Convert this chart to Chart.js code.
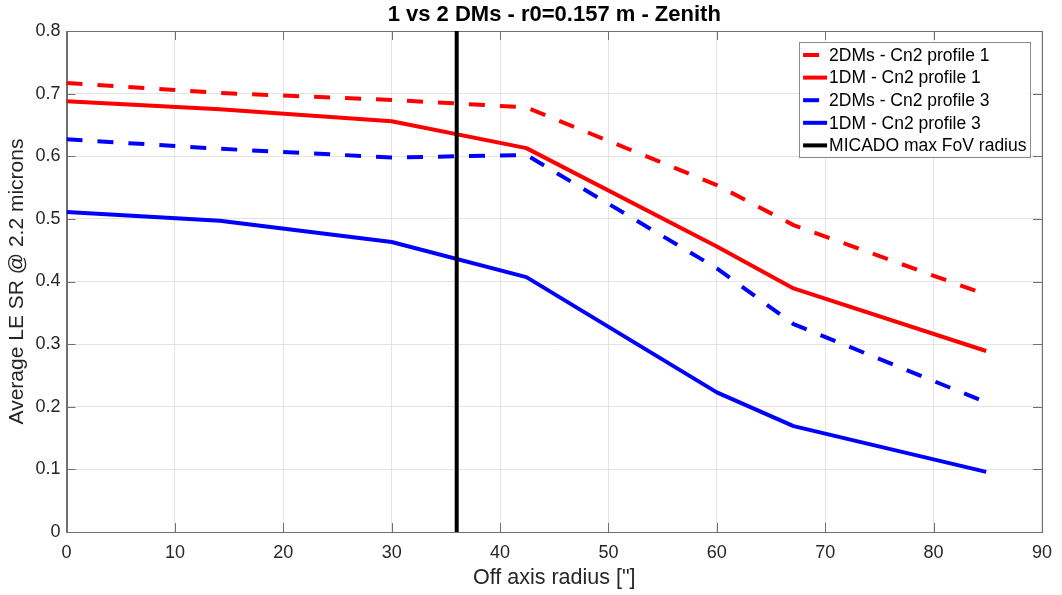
<!DOCTYPE html>
<html>
<head>
<meta charset="utf-8">
<title>1 vs 2 DMs - Zenith</title>
<script src="https://cdn.jsdelivr.net/npm/chart.js@4.4.1/dist/chart.umd.min.js"></script>
<style>
  html, body { margin: 0; padding: 0; background: #fff; }
  #wrap { width: 1062px; height: 595px; }
</style>
</head>
<body>
<div id="wrap"><canvas id="sr_chart" width="1062" height="595"></canvas></div>
<script>
// off axis radius of the sampled field points ["]
var radius = [0, 14.14, 30, 42.43, 60, 67.08, 84.85];

// average LE strehl @ 2.2 microns
var sr2dmProf1 = [0.717, 0.701, 0.690, 0.678, 0.554, 0.490, 0.379];
var sr1dmProf1 = [0.688, 0.675, 0.656, 0.613, 0.456, 0.389, 0.289];
var sr2dmProf3 = [0.627, 0.612, 0.598, 0.602, 0.421, 0.332, 0.207];
var sr1dmProf3 = [0.511, 0.497, 0.463, 0.407, 0.223, 0.169, 0.096];

// MICADO max FoV radius ["]
var fovRadius = 36;
var fovLimits = [0, 0.8];

var xTicks = [0, 10, 20, 30, 40, 50, 60, 70, 80, 90];
var yTicks = [0, 0.1, 0.2, 0.3, 0.4, 0.5, 0.6, 0.7, 0.8];

var FONT = "'Liberation Sans', Arial, Helvetica, sans-serif";
var TXT = '#262626';

function toPoints(xs, ys) {
  return xs.map(function (x, i) { return { x: x, y: ys[i] }; });
}

// matlab style box, inward ticks and title
var boxPlugin = {
  id: 'matlabBox',
  beforeDatasetsDraw: function (chart) {
    var ctx = chart.ctx, a = chart.chartArea;
    var xs = chart.scales.x, ys = chart.scales.y;
    ctx.save();
    ctx.strokeStyle = '#707070';
    ctx.lineWidth = 1;
    ctx.beginPath();
    xTicks.forEach(function (t) {
      var px = Math.round(xs.getPixelForValue(t)) + 0.5;
      ctx.moveTo(px, a.bottom); ctx.lineTo(px, a.bottom - 9);
      ctx.moveTo(px, a.top); ctx.lineTo(px, a.top + 9);
    });
    yTicks.forEach(function (t) {
      var py = Math.round(ys.getPixelForValue(t)) + 0.5;
      ctx.moveTo(a.left, py); ctx.lineTo(a.left + 9, py);
      ctx.moveTo(a.right, py); ctx.lineTo(a.right - 9, py);
    });
    ctx.stroke();
    ctx.strokeRect(Math.round(a.left) + 0.5, Math.round(a.top) + 0.5,
      Math.round(a.right - a.left), Math.round(a.bottom - a.top));
    ctx.restore();
  },
  afterDraw: function (chart) {
    var ctx = chart.ctx, a = chart.chartArea;
    ctx.save();
    ctx.fillStyle = '#000';
    ctx.font = 'bold 22px ' + FONT;
    ctx.textAlign = 'center';
    ctx.textBaseline = 'middle';
    ctx.fillText('1 vs 2 DMs - r0=0.157 m - Zenith', (a.left + a.right) / 2, 15);
    ctx.restore();
  }
};

// legend inside the axes, top right
var legendPlugin = {
  id: 'insideLegend',
  afterDatasetsDraw: function (chart) {
    var ctx = chart.ctx, a = chart.chartArea;
    var sets = chart.data.datasets;
    ctx.save();
    ctx.font = '17.5px ' + FONT;
    var tw = 0;
    sets.forEach(function (d) { tw = Math.max(tw, ctx.measureText(d.label).width); });
    var rowH = 22.6;
    var w = tw + 34, h = rowH * sets.length + 2;
    var right = a.right - 11.5, top = a.top + 10.5;
    var left = right - w;
    ctx.fillStyle = '#fff';
    ctx.fillRect(left, top, w, h);
    ctx.strokeStyle = '#8c8c8c';
    ctx.lineWidth = 1;
    ctx.strokeRect(Math.round(left) + 0.5, Math.round(top) + 0.5, Math.round(w), Math.round(h));
    sets.forEach(function (d, i) {
      var cy = top + 13.5 + i * rowH;
      ctx.strokeStyle = d.borderColor;
      ctx.lineWidth = d.borderWidth;
      ctx.setLineDash(d.borderDash || []);
      ctx.beginPath();
      ctx.moveTo(left + 4, cy);
      ctx.lineTo(left + 28, cy);
      ctx.stroke();
      ctx.setLineDash([]);
      ctx.fillStyle = '#000';
      ctx.textBaseline = 'middle';
      ctx.fillText(d.label, left + 30, cy + 1);
    });
    ctx.restore();
  }
};

var dash = [16, 15];

new Chart(document.getElementById('sr_chart').getContext('2d'), {
  type: 'line',
  data: {
    datasets: [
      { label: '2DMs - Cn2 profile 1', data: toPoints(radius, sr2dmProf1), borderColor: '#ff0000', borderDash: dash, borderWidth: 4, order: 5 },
      { label: '1DM - Cn2 profile 1', data: toPoints(radius, sr1dmProf1), borderColor: '#ff0000', borderWidth: 4, order: 4 },
      { label: '2DMs - Cn2 profile 3', data: toPoints(radius, sr2dmProf3), borderColor: '#0000ff', borderDash: dash, borderWidth: 4, order: 3 },
      { label: '1DM - Cn2 profile 3', data: toPoints(radius, sr1dmProf3), borderColor: '#0000ff', borderWidth: 4, order: 2 },
      { label: 'MICADO max FoV radius', data: toPoints([fovRadius, fovRadius], fovLimits), borderColor: '#000000', borderWidth: 4, order: 1 }
    ]
  },
  options: {
    responsive: false,
    animation: false,
    layout: { padding: { top: 31, right: 18, left: 0, bottom: 0 } },
    elements: {
      point: { radius: 0, hoverRadius: 0 },
      line: { tension: 0, fill: false, borderCapStyle: 'butt', borderJoinStyle: 'round' }
    },
    plugins: {
      legend: { display: false },
      title: { display: false },
      tooltip: { enabled: false }
    },
    scales: {
      x: {
        type: 'linear',
        min: 0,
        max: 90,
        afterFit: function (s) { s.height = 63; },
        afterBuildTicks: function (s) { s.ticks = xTicks.map(function (v) { return { value: v }; }); },
        ticks: { padding: 10, color: TXT, font: { family: FONT, size: 18 }, maxRotation: 0 },
        grid: { color: '#e4e4e4', drawTicks: false },
        border: { color: '#707070' },
        title: { display: true, text: 'Off axis radius ["]', color: TXT, font: { family: FONT, size: 21.5 }, padding: { top: 0, bottom: 4 } }
      },
      y: {
        min: 0,
        max: 0.8,
        afterFit: function (s) { s.width = 66.5; },
        afterBuildTicks: function (s) { s.ticks = yTicks.map(function (v) { return { value: v }; }); },
        ticks: {
          padding: 6, color: TXT, font: { family: FONT, size: 18 },
          callback: function (v) { return String(Math.round(v * 10) / 10); }
        },
        grid: { color: '#e4e4e4', drawTicks: false },
        border: { color: '#707070' },
        title: { display: true, text: 'Average LE SR @ 2.2 microns', color: TXT, font: { family: FONT, size: 21 }, padding: { top: 5, bottom: 0 } }
      }
    }
  },
  plugins: [boxPlugin, legendPlugin]
});
</script>
</body>
</html>
